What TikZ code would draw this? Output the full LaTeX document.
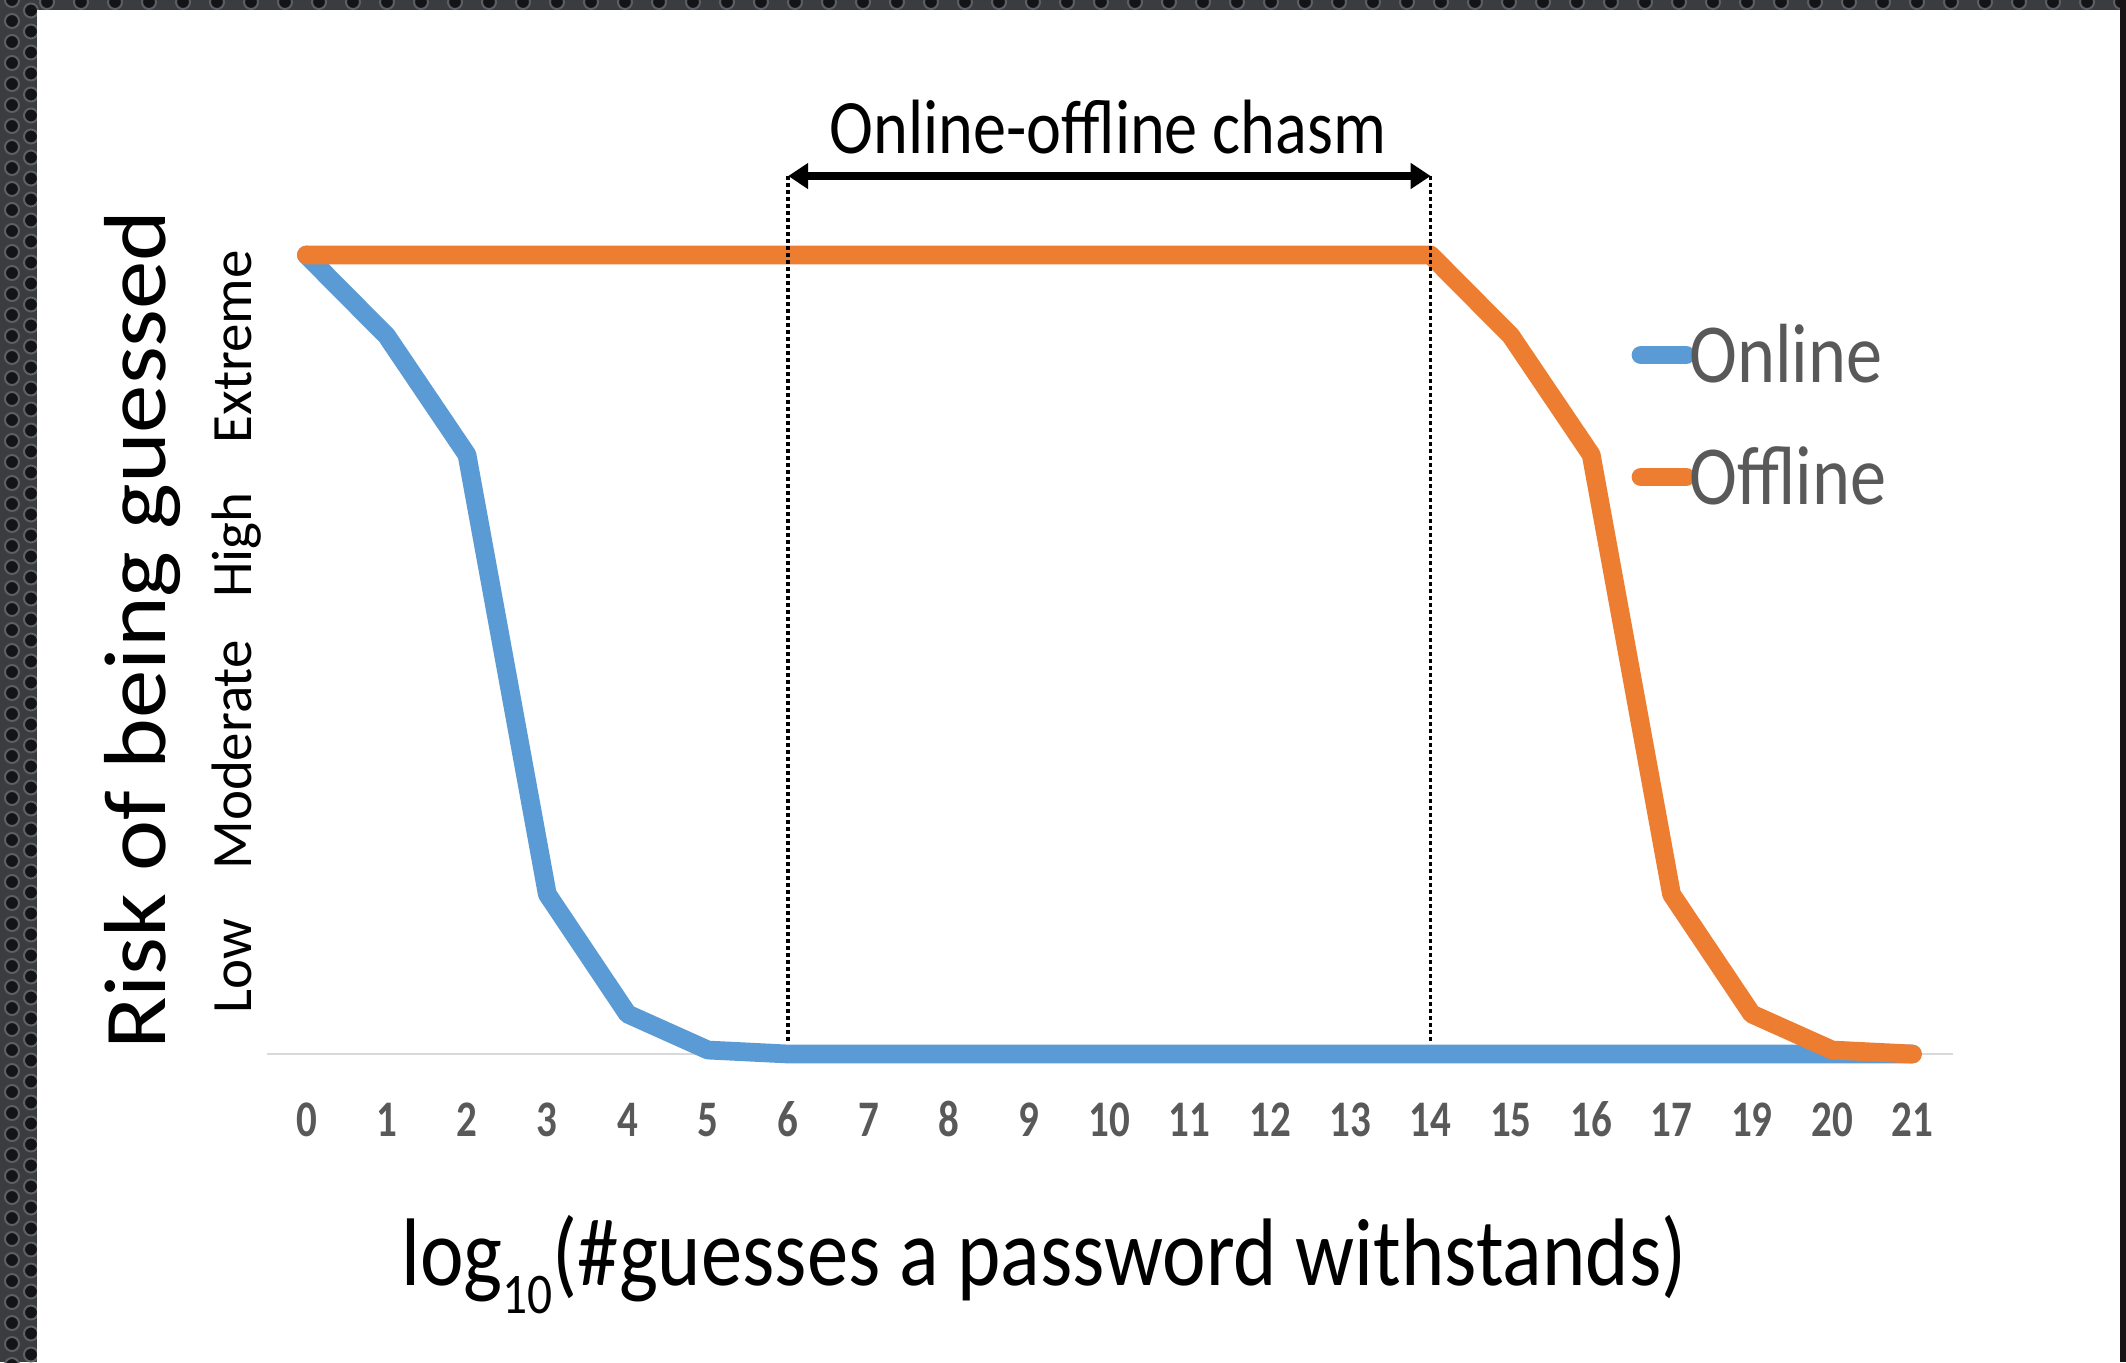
\documentclass[tikz,border=0pt]{standalone}
\usepackage{fontspec}
\setmainfont{Carlito}
\newfontfamily\hfont[FakeStretch=0.86]{Carlito}
\newfontfamily\tickfont[FakeStretch=0.8]{Carlito}
\newfontfamily\vfont[FakeStretch=1.1]{Carlito}
\newfontfamily\lvfont{Carlito}
\usetikzlibrary{arrows.meta}
\definecolor{cBlue}{HTML}{5B9BD5}
\definecolor{cOrange}{HTML}{ED7D31}
\definecolor{cGray}{HTML}{595959}
\definecolor{cAxis}{HTML}{D9D9D9}
\definecolor{frameBg}{HTML}{3A3C40}
\definecolor{holeC}{HTML}{141417}
\definecolor{ringC}{HTML}{5C5F64}
\definecolor{rightC}{HTML}{1A1416}
\begin{document}
\begin{tikzpicture}[x=0.4pt,y=-0.4pt,
  series/.style={line width=7.5pt,line cap=round,line join=round},
  guide/.style={black,line width=1.4pt,dash pattern=on 1.4pt off 1.4pt},
  ticklab/.style={inner sep=0pt,anchor=base,text=cGray,font=\tickfont\bfseries\fontsize{20.5pt}{24pt}\selectfont},
  levlab/.style={inner sep=0pt,anchor=base,rotate=90,font=\lvfont\fontsize{22.8pt}{26pt}\selectfont},
  legtext/.style={inner sep=0pt,anchor=base west,text=cGray,font=\hfont\fontsize{33.6pt}{38pt}\selectfont},
  hole/.style={fill=holeC,draw=ringC,line width=0.8pt}]
\useasboundingbox (0,0) rectangle (2126,1362);
% textured frame
\fill[frameBg] (0,0) rectangle (2126,1362);
\foreach \r in {0,...,65}{
  \filldraw[hole] (12,{21*\r}) circle (2.8pt);
  \filldraw[hole] (31,{21*\r+10.5}) circle (2.8pt);
}
\foreach \c in {0,...,62}{
  \filldraw[hole] ({47+34*\c},2) circle (2.8pt);
}
\fill[rightC] (2120,0) rectangle (2126,1362);
\fill[white] (37,10) rectangle (2120,1362);
% axis line
\coordinate (axL) at (267,1054);
\coordinate (axR) at (1953,1054);
\draw[cAxis,line width=0.9pt] (axL) -- (axR);
% online series
\draw[series,cBlue] (306.4,255) -- (386.7,335.9) -- (467.0,454.8) -- (547.3,894.2) -- (627.6,1014.0) -- (707.9,1050.0) -- (788.2,1054) -- (1912.4,1054);
% offline series
\draw[series,cOrange] (306.4,255) -- (1430.6,255) -- (1510.9,335.9) -- (1591.2,454.8) -- (1671.5,894.2) -- (1751.8,1014.0) -- (1832.1,1050.0) -- (1912.4,1054);
% chasm guides
\coordinate (gLt) at (788.2,176);
\coordinate (gLb) at (788.2,1044);
\coordinate (gRt) at (1430.6,176);
\coordinate (gRb) at (1430.6,1044);
\draw[guide] (gLt) -- (gLb);
\draw[guide] (gRt) -- (gRb);
\draw[black,line width=3pt,{Triangle[length=8pt,width=10pt]}-{Triangle[length=8pt,width=10pt]}] (gLt) -- (gRt);
\node[inner sep=0pt,anchor=base,font=\hfont\fontsize{30.8pt}{36pt}\selectfont] (title) at (1108,153) {Online-offline chasm};
% tick labels
\foreach \i/\l in {0/0,1/1,2/2,3/3,4/4,5/5,6/6,7/7,8/8,9/9,10/10,11/11,12/12,13/13,14/14,15/15,16/16,17/17,18/19,19/20,20/21}{
  \node[ticklab] (t\i) at ({306.4+80.3*\i},1136) {\l};
}
% axis titles
\node[inner sep=0pt,anchor=base,font=\hfont\fontsize{38.4pt}{44pt}\selectfont] (xtitle) at (1044,1285)
  {log\raisebox{-0.3em}{\fontsize{23pt}{26pt}\selectfont 10}(\#guesses a password withstands)};
\node[inner sep=0pt,anchor=base,rotate=90,font=\vfont\fontsize{35.2pt}{40pt}\selectfont] (ytitle) at (165,630) {Risk of being guessed};
\node[levlab] (lLow) at (251,966) {Low};
\node[levlab] (lMod) at (251,755) {Moderate};
\node[levlab] (lHigh) at (251,545) {High};
\node[levlab] (lExt) at (251,347) {Extreme};
% legend
\coordinate (l1a) at (1641,355); \coordinate (l1b) at (1686,355);
\coordinate (l2a) at (1641,477); \coordinate (l2b) at (1686,477);
\draw[series,cBlue] (l1a) -- (l1b);
\draw[series,cOrange] (l2a) -- (l2b);
\node[legtext] (legOn) at (1689,382) {Online};
\node[legtext] (legOff) at (1689,504) {Offline};
\end{tikzpicture}
\end{document}
